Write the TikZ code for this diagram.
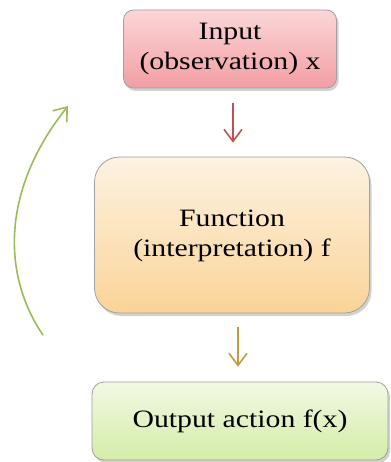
\documentclass[tikz,border=0pt]{standalone}
\usepackage{fontspec}
\setmainfont{Liberation Serif}
\usetikzlibrary{shadows,arrows.meta}
\definecolor{inTop}{RGB}{251,214,216}
\definecolor{inBot}{RGB}{242,158,163}
\definecolor{fnTop}{RGB}{253,242,226}
\definecolor{fnBot}{RGB}{250,212,152}
\definecolor{outTop}{RGB}{242,249,228}
\definecolor{outBot}{RGB}{212,236,168}
\definecolor{boxLine}{RGB}{160,160,160}
\definecolor{arrRed}{RGB}{192,80,77}
\definecolor{arrGold}{RGB}{192,155,64}
\definecolor{arrGreen}{RGB}{155,187,89}
\newcommand{\boxtext}[1]{\scalebox{1.19}[1]{\fontsize{25}{30}\selectfont\begin{tabular}{@{}c@{}}#1\end{tabular}}}
\begin{document}
\begin{tikzpicture}[x=1pt,y=-1pt,
  box/.style={draw=boxLine, line width=0.8pt, inner sep=0pt, shading=axis,
    drop shadow={shadow xshift=2pt, shadow yshift=-3pt, opacity=0.3, fill=black!60}},
  flowarrow/.style={line width=1.6pt, -{Straight Barb[length=12pt,width=18pt]}},
  ]
\useasboundingbox (0,0) rectangle (390,462);
\node[box, top color=inTop, bottom color=inBot, rounded corners=10pt,
  minimum width=213pt, minimum height=78pt] (in) at (230,49)
  {\boxtext{Input\\(observation) x}};
\node[box, top color=fnTop, bottom color=fnBot, rounded corners=25pt,
  minimum width=275pt, minimum height=156pt] (fn) at (232,235)
  {\boxtext{Function\\(interpretation) f}};
\node[box, top color=outTop, bottom color=outBot, rounded corners=12pt,
  minimum width=296pt, minimum height=78pt] (out) at (240,421)
  {\boxtext{Output action f(x)}};
\draw[flowarrow, draw=arrRed] ([xshift=3pt,yshift=-15pt]in.south) -- ([xshift=1pt,yshift=14pt]fn.north);
\draw[flowarrow, draw=arrGold] ([xshift=6pt,yshift=-14pt]fn.south) -- ([xshift=-2pt,yshift=15pt]out.north);
\coordinate (loopA) at (43,335);
\coordinate (loopB) at (68,106);
\draw[flowarrow, draw=arrGreen] (loopA) .. controls (2,275) and (1,190) .. (loopB);
\end{tikzpicture}
\end{document}
